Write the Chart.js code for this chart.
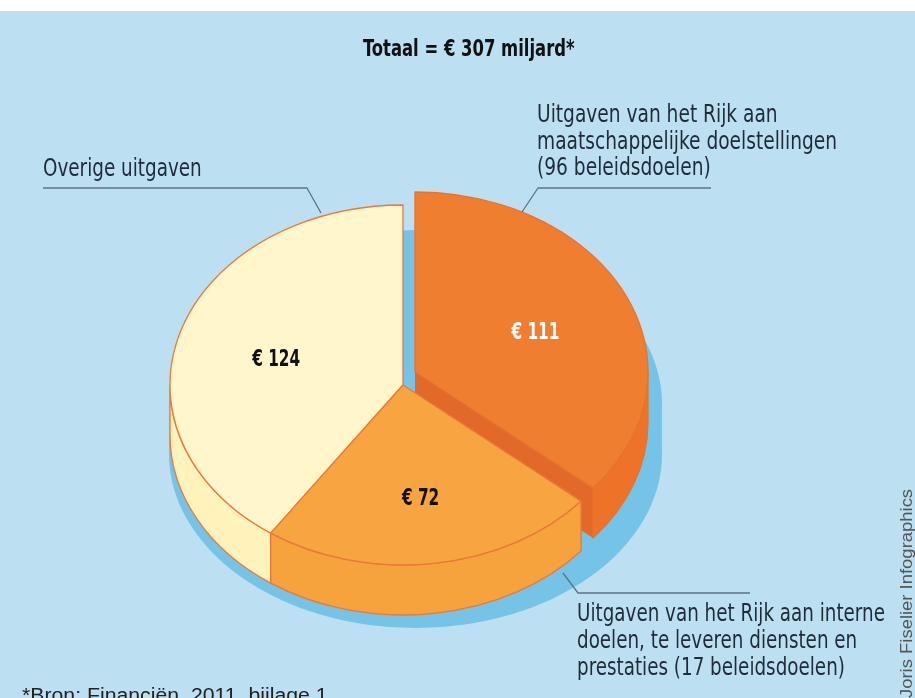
<!DOCTYPE html>
<html>
<head>
<meta charset="utf-8">
<script src="https://cdn.jsdelivr.net/npm/chart.js@4.4.0/dist/chart.umd.min.js"></script>
<style>
html,body{margin:0;padding:0;background:#ffffff;}
#wrap{position:relative;width:915px;height:698px;overflow:hidden;background:#ffffff;}
#bg{position:absolute;left:0;top:11px;width:915px;height:687px;background:#bcdff2;}
#c{position:absolute;left:0;top:0;}
.t{position:absolute;white-space:nowrap;color:#1f2b38;transform-origin:0 0;}
.cond{font-family:"Liberation Sans Narrow","DejaVu Sans Condensed","Arial Narrow","Liberation Sans",sans-serif;}
.reg{font-family:"Liberation Sans",Arial,sans-serif;}
#title{font-weight:bold;font-size:23px;line-height:24px;color:#111;}
.call{font-size:24px;line-height:27px;}
#foot{font-size:20px;line-height:22px;color:#222;}
#credit{font-size:16.5px;line-height:18px;color:#555;transform-origin:0 0;}
</style>
</head>
<body>
<div id="wrap">
  <div id="bg"></div>
  <canvas id="c" width="915" height="698"></canvas>
  <div class="t cond" id="title" data-w="212" style="left:363px;top:36px;"></div>
  <div class="t cond call" id="lab2" data-w="159" style="left:43px;top:155px;"></div>
  <div class="t cond call" id="lab0" data-w="300" style="left:537px;top:101px;line-height:26.5px;"></div>
  <div class="t cond call" id="lab1" data-w="308" style="left:577px;top:600px;"></div>
  <div class="t reg" id="foot" data-w="306" style="left:22px;top:684px;"></div>
  <div class="t reg" id="credit" style="left:897px;top:698px;"></div>
</div>
<script>
// ---- data ----
const categories = [
  "Uitgaven van het Rijk aan maatschappelijke doelstellingen (96 beleidsdoelen)",
  "Uitgaven van het Rijk aan interne doelen, te leveren diensten en prestaties (17 beleidsdoelen)",
  "Overige uitgaven"
];
const calloutLines = [
  ["Uitgaven van het Rijk aan", "maatschappelijke doelstellingen", "(96 beleidsdoelen)"],
  ["Uitgaven van het Rijk aan interne", "doelen, te leveren diensten en", "prestaties (17 beleidsdoelen)"],
  ["Overige uitgaven"]
];
const values = [111, 72, 124];
const total = 307;
const valueLabels = values.map(v => "€ " + v);
const titleText = "Totaal = € " + total + " miljard*";
const footText = "*Bron: Financiën, 2011, bijlage 1";
const creditText = "Joris Fiselier Infographics";

// ---- style ----
const topColors  = ["#ef7e31", "#f7a540", "#fff7cb"];
const sideColors = ["#ef7229", "#f6a23d", "#fff2bb"];
const cutColor   = "#e2692a";
const edgeColors = ["#e9722c", "#e9783a", "#ea7a3c"];
const labelColors = ["#ffffff", "#111111", "#111111"];
const K = 180 / 233;          // vertical squash of the pie
const DEPTH = 50;             // thickness in px
const EXPLODE = [{dx: 12, dy: -13}, {dx: 0, dy: 0}, {dx: 0, dy: 0}];

// text
document.getElementById("title").textContent = titleText;
[0,1,2].forEach(i => {
  document.getElementById("lab" + i).innerHTML = calloutLines[i].join("<br>");
});
document.getElementById("foot").textContent = footText;
document.getElementById("credit").textContent = creditText;

function fit(el) {
  const w = parseFloat(el.dataset.w);
  if (!w) return;
  const actual = el.scrollWidth;
  if (actual > 0) el.style.transform = "scaleX(" + (w / actual) + ")";
}
["title","lab0","lab1","lab2","foot"].forEach(id => fit(document.getElementById(id)));
(function(){
  const el = document.getElementById("credit");
  const w = el.scrollWidth;
  el.style.transform = "rotate(-90deg) scaleX(" + (209 / w) + ")";
})();

const pie3d = {
  id: "pie3d",
  beforeDatasetsDraw(chart) {
    const ctx = chart.ctx;
    const arcs = chart.getDatasetMeta(0).data;
    const base = arcs[0];
    const cx = base.x, cy = base.y, R = base.outerRadius, ry = R * K;

    // floor shadow
    ctx.save();
    ctx.fillStyle = "#76c3e8";
    const sx = cx + 12.5, sy = cy + 19, srx = R * 1.058, sry = R * 0.747;
    ctx.beginPath();
    ctx.ellipse(sx, sy, srx, sry, 0, Math.PI, 0);
    ctx.lineTo(sx + srx, sy + DEPTH);
    ctx.ellipse(sx, sy + DEPTH, srx, sry, 0, 0, Math.PI);
    ctx.closePath();
    ctx.fill();
    ctx.restore();

    const order = [0, 2, 1];
    ctx.lineJoin = "round";
    order.forEach(i => {
      const el = arcs[i];
      const s = el.startAngle, e = el.endAngle;
      const x = el.x + EXPLODE[i].dx, y = el.y + EXPLODE[i].dy;
      ctx.save();
      ctx.lineWidth = 1.3;
      ctx.strokeStyle = edgeColors[i];
      if (EXPLODE[i].dx !== 0 || EXPLODE[i].dy !== 0) {
        const ex = x + R * Math.cos(e), ey = y + ry * Math.sin(e);
        if (Math.cos(e) > 0) {
          ctx.beginPath();
          ctx.moveTo(x, y); ctx.lineTo(ex, ey); ctx.lineTo(ex, ey + DEPTH); ctx.lineTo(x, y + DEPTH);
          ctx.closePath();
          ctx.fillStyle = cutColor; ctx.fill();
        }
      }
      const ws = Math.max(s, 0), we = Math.min(e, Math.PI);
      if (we > ws) {
        ctx.beginPath();
        ctx.ellipse(x, y, R, ry, 0, ws, we);
        ctx.lineTo(x + R * Math.cos(we), y + ry * Math.sin(we) + DEPTH);
        ctx.ellipse(x, y + DEPTH, R, ry, 0, we, ws, true);
        ctx.closePath();
        ctx.fillStyle = sideColors[i]; ctx.fill();
        ctx.stroke();
      }
      ctx.beginPath();
      ctx.moveTo(x, y);
      ctx.ellipse(x, y, R, ry, 0, s, e);
      ctx.closePath();
      ctx.fillStyle = topColors[i]; ctx.fill();
      ctx.stroke();
      ctx.restore();
    });

    // value labels (condensed)
    ctx.save();
    ctx.font = 'bold 23px "Liberation Sans Narrow","DejaVu Sans Condensed","Liberation Sans",sans-serif';
    ctx.textAlign = "center";
    ctx.textBaseline = "middle";
    arcs.forEach((el, i) => {
      const mid = (el.startAngle + el.endAngle) / 2;
      const x = el.x + EXPLODE[i].dx, y = el.y + EXPLODE[i].dy;
      const lx = x + 0.57 * R * Math.cos(mid);
      const ly = y + 0.6 * ry * Math.sin(mid) + 7;
      ctx.save();
      ctx.translate(lx, ly);
      ctx.scale(0.74, 1);
      ctx.fillStyle = labelColors[i];
      ctx.fillText(valueLabels[i], 0, 0);
      ctx.restore();
    });
    ctx.restore();

    // leader lines
    ctx.save();
    ctx.strokeStyle = "#5b7484";
    ctx.lineWidth = 1.3;
    const leaders = [
      [[711,188],[538,188],[522,212]],
      [[563,573],[578,593],[750,593]],
      [[43,188],[307,188],[321,213]]
    ];
    leaders.forEach(pts => {
      ctx.beginPath();
      ctx.moveTo(pts[0][0], pts[0][1]);
      for (let k = 1; k < pts.length; k++) ctx.lineTo(pts[k][0], pts[k][1]);
      ctx.stroke();
    });
    ctx.restore();
    return false;
  }
};

new Chart(document.getElementById("c"), {
  type: "pie",
  data: {
    labels: categories,
    datasets: [{ data: values, backgroundColor: topColors, borderWidth: 0 }]
  },
  options: {
    responsive: false,
    animation: false,
    events: [],
    layout: { padding: { left: 170, right: 279, top: 152, bottom: 80 } },
    plugins: { legend: { display: false }, tooltip: { enabled: false }, title: { display: false } }
  },
  plugins: [pie3d]
});
</script>
</body>
</html>
